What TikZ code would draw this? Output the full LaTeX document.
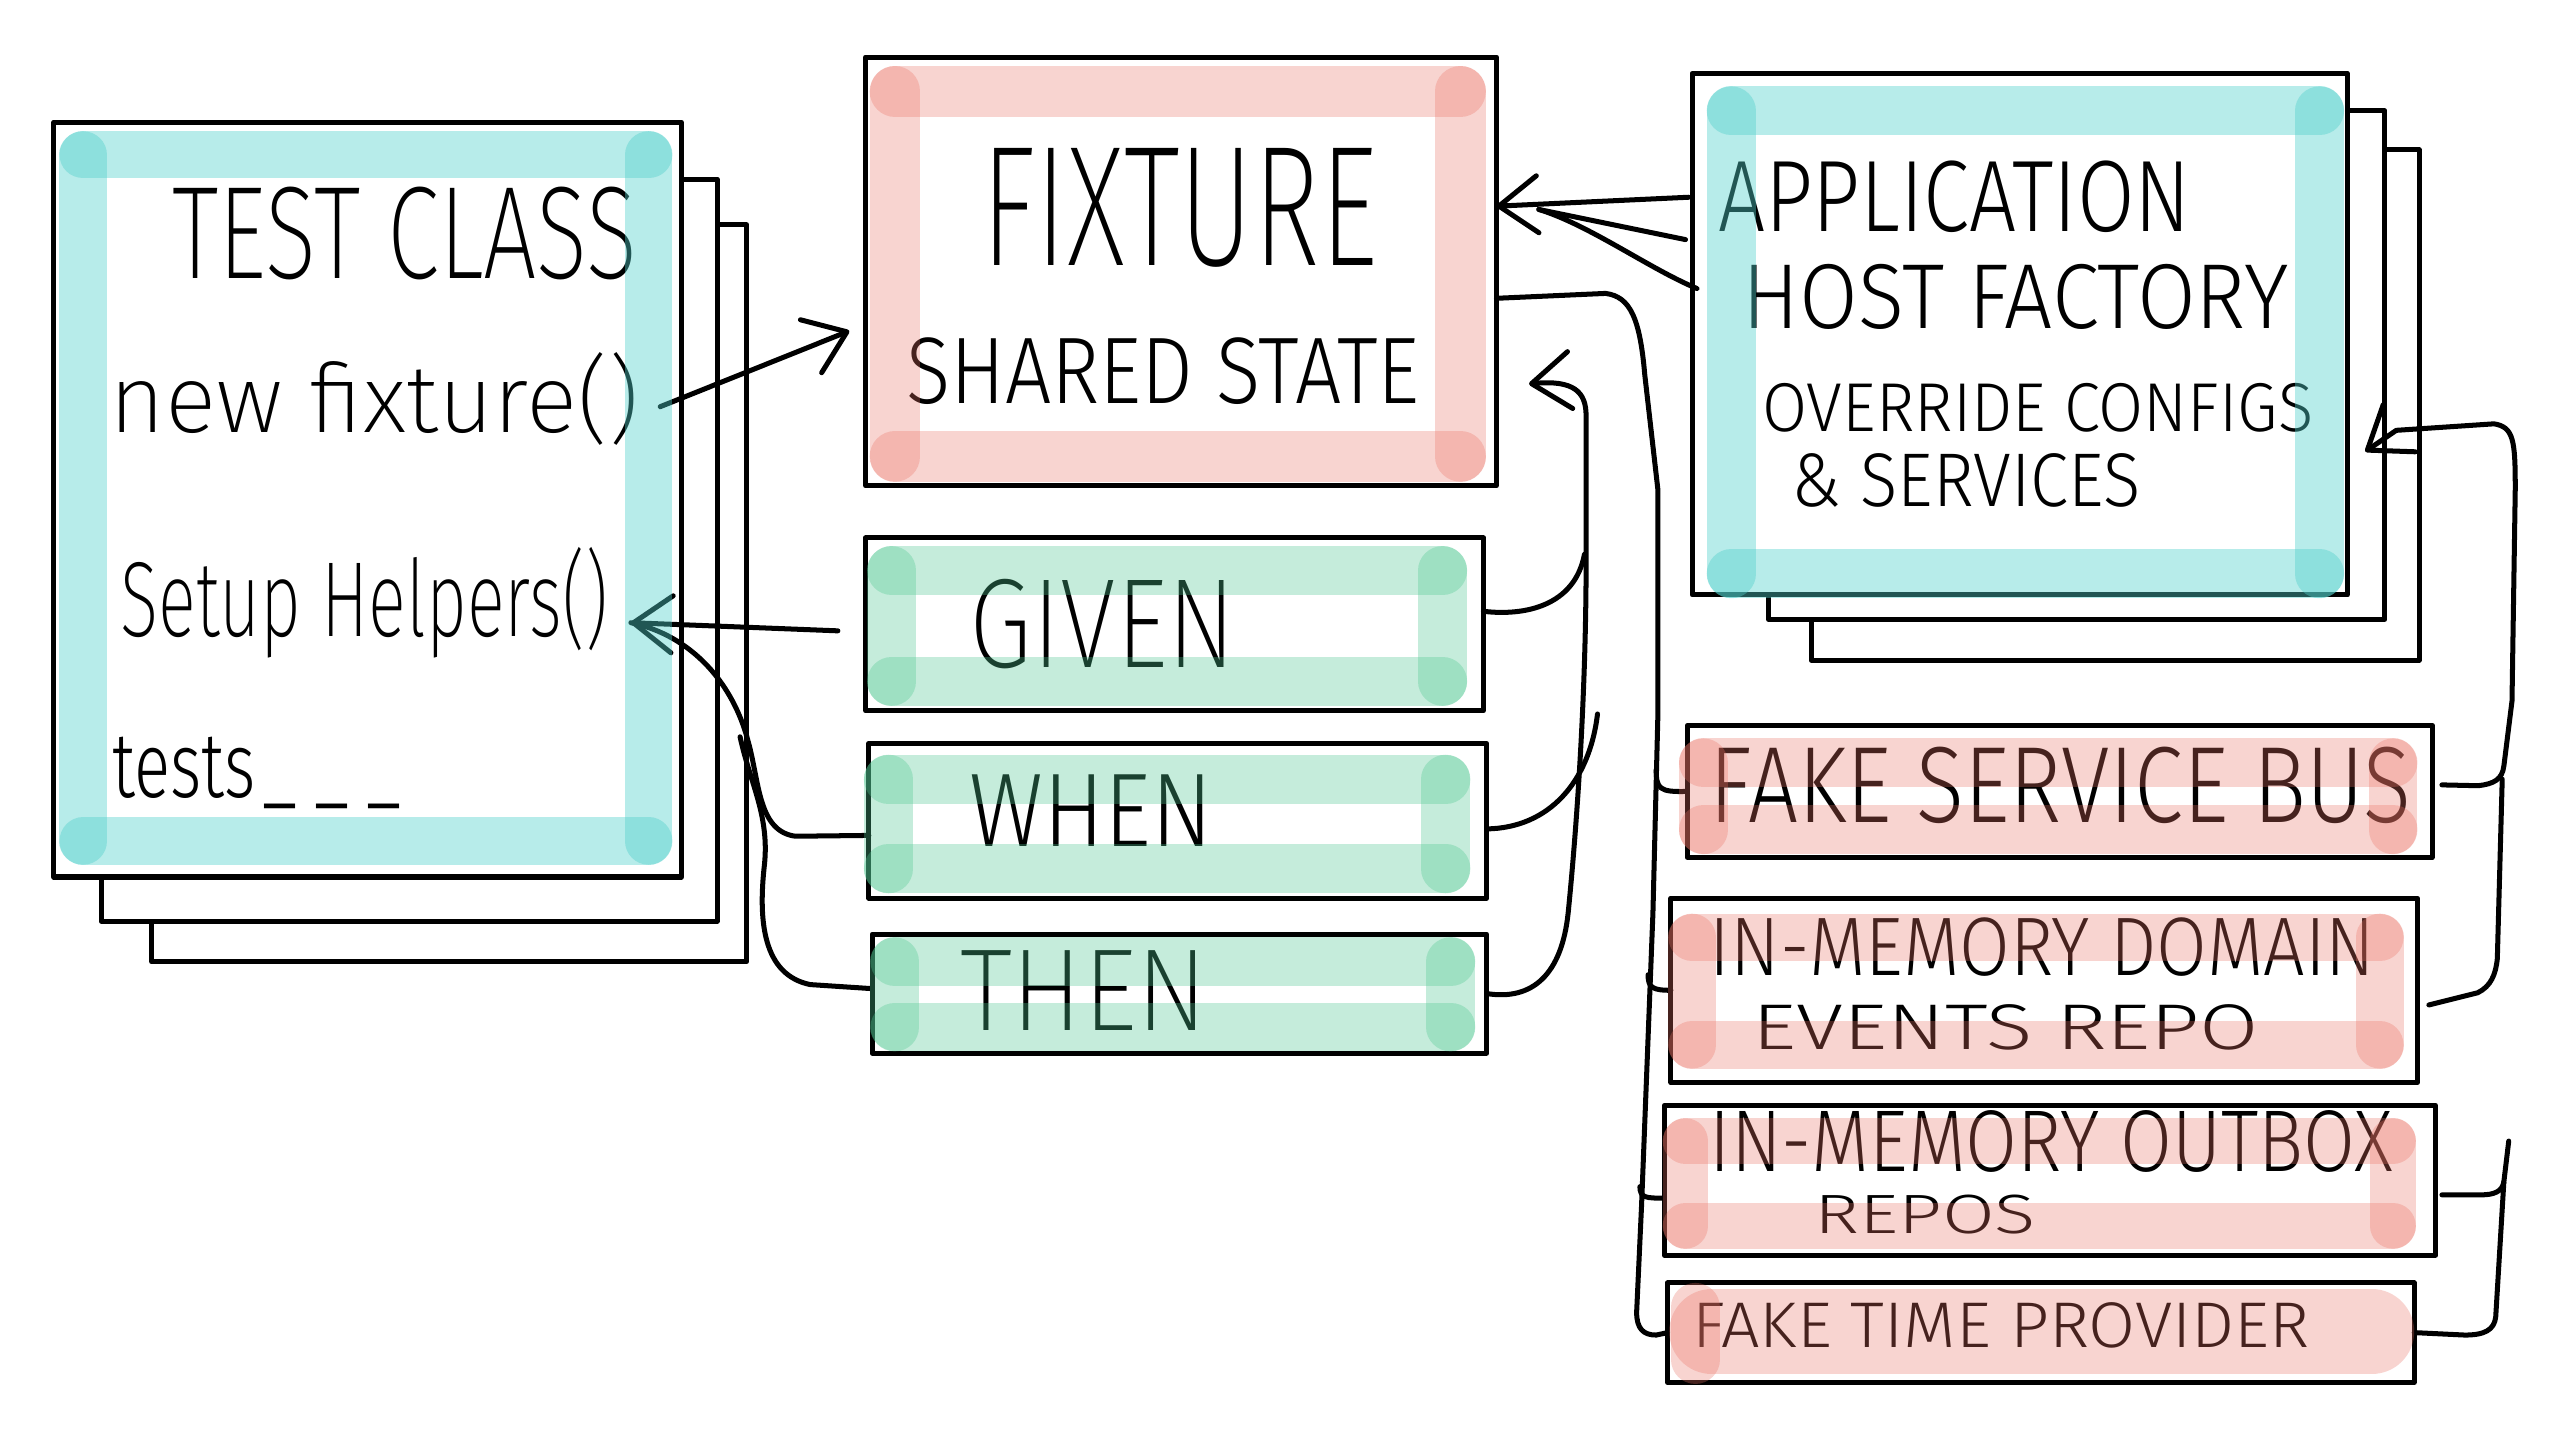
\documentclass[tikz,border=0pt]{standalone}
\usepackage{fontspec}
\usepackage{graphicx}
\newfontfamily\hand{Fira Sans Light}
\newfontfamily\handthin{Fira Sans ExtraLight}
\usetikzlibrary{arrows.meta,calc}
\newlength\ux \setlength\ux{0.16mm}
\newcommand\fitt[3]{\resizebox*{#1\ux}{#2\ux}{\hand #3}}
\newcommand\fitthin[3]{\resizebox*{#1\ux}{#2\ux}{\handthin #3}}
\definecolor{cyanpen}{RGB}{82,209,204}
\definecolor{pinkpen}{RGB}{235,115,102}
\definecolor{greenpen}{RGB}{79,200,146}
\newcommand\bandbox[6]{%
  \draw[#1,line width=#6\ux] (#2,#3) -- (#4,#3);
  \draw[#1,line width=#6\ux] (#2,#5) -- (#4,#5);
  \draw[#1,line width=#6\ux] (#2,#3) -- (#2,#5);
  \draw[#1,line width=#6\ux] (#4,#3) -- (#4,#5);}
\begin{document}
\begin{tikzpicture}[x=0.16mm,y=-0.16mm,
  pen/.style={line width=1.4pt, line cap=round, line join=round},
  box/.style={pen, draw=black, fill=white, inner sep=0pt, outer sep=0pt},
  sheet/.style={pen, draw=black, fill=white},
  txt/.style={inner sep=0pt, outer sep=0pt},
  conn/.style={pen, draw=black},
  arr/.style={conn, -{Straight Barb[length=3.8mm, width=5.6mm, round]}},
  cyanband/.style={draw=cyanpen, draw opacity=0.41, line cap=round},
  pinkband/.style={draw=pinkpen, draw opacity=0.3, line cap=round},
  greenband/.style={draw=greenpen, draw opacity=0.33, line cap=round}]
\fill[white] (0,0) rectangle (1568,878);
\useasboundingbox (0,0) rectangle (1568,878);

% ---------- test class stack
\draw[sheet] (93,138) rectangle (458,590);
\draw[sheet] (62,110) rectangle (440,565);
\node[box, minimum width=385\ux, minimum height=463\ux] (tc) at (225.5,306.5) {};

% ---------- application host factory stack
\draw[sheet] (1111,92) rectangle (1484,405);
\draw[sheet] (1085,68) rectangle (1463,380);
\node[box, minimum width=402\ux, minimum height=320\ux] (app) at (1239,205) {};

% ---------- middle boxes
\node[box, minimum width=387\ux, minimum height=263\ux] (fixture) at (724.5,166.5) {};
\node[box, minimum width=379\ux, minimum height=106\ux] (given) at (720.5,383) {};
\node[box, minimum width=379\ux, minimum height=95\ux] (when) at (722.5,503.5) {};
\node[box, minimum width=377\ux, minimum height=73\ux] (then) at (723.5,609.5) {};

% ---------- right boxes
\node[box, minimum width=457\ux, minimum height=81\ux] (bus) at (1263.5,485.5) {};
\node[box, minimum width=458\ux, minimum height=113\ux] (domain) at (1254,607.5) {};
\node[box, minimum width=473\ux, minimum height=92\ux] (outbox) at (1257.5,724) {};
\node[box, minimum width=458\ux, minimum height=61\ux] (time) at (1252,817.5) {};

% ---------- texts
\node[txt] (tctitle) at (248.5,143.5) {\fitthin{285}{57}{TEST CLASS}};
\node[txt] (nf) at (229.5,244.5) {\fitthin{325}{57}{new fixture()}};
\node[txt] (sh) at (223.5,370) {\fitthin{299}{68}{Setup Helpers()}};
\node[txt] (tests) at (157.5,474) {\fitt{177}{44}{tests\kern1pt\_\kern2.5pt\_\kern2.5pt\_}};
\node[txt] (fxt) at (723.5,127.5) {\fitthin{243}{73}{FIXTURE}};
\node[txt] (sst) at (713.5,227.5) {\fitt{315}{41}{SHARED STATE}};
\node[txt] (gt) at (676.5,383) {\fitthin{163}{55}{GIVEN}};
\node[txt] (wt) at (669.5,497) {\fitt{149}{44}{WHEN}};
\node[txt] (tt) at (665,607.5) {\fitthin{152}{49}{THEN}};
\node[txt] (appt1) at (1199,121) {\fitt{290}{44}{APPLICATION}};
\node[txt] (appt2) at (1236.5,182) {\fitt{335}{40}{HOST FACTORY}};
\node[txt] (appt3) at (1250,250) {\fitt{338}{30}{OVERRIDE CONFIGS}};
\node[txt] (appt4) at (1206,295) {\fitt{214}{33}{\& SERVICES}};
\node[txt] (bust) at (1264,481.5) {\fitt{430}{47}{FAKE SERVICE BUS}};
\node[txt] (domt1) at (1253,581) {\fitt{408}{36}{IN-MEMORY DOMAIN}};
\node[txt] (domt2) at (1230.5,630) {\fitt{311}{28}{EVENTS REPO}};
\node[txt] (outt1) at (1258.5,700) {\fitt{419}{38}{IN-MEMORY OUTBOX}};
\node[txt] (outt2) at (1181,745) {\fitt{136}{24}{REPOS}};
\node[txt] (timet) at (1227.5,813) {\fitt{379}{28}{FAKE TIME PROVIDER}};

% ---------- named connection points
\coordinate (fxIn) at ($(fixture.west)+(-10,36.5)$);
\coordinate (shTip) at ($(sh.east)+(14,12)$);
\coordinate (thenJ) at (454,452);
\coordinate (stTip) at ($(fixture.east)+(20,69)$);
\coordinate (fxR) at ($(fixture.east)+(0,-40)$);
\coordinate (fxR2) at ($(fixture.east)+(26,-38)$);
\coordinate (appTip) at ($(app.east)+(11,72)$);
\coordinate (lowR) at (1539,700);

% ---------- connectors: test class side
\draw[arr] ($(nf.east)+(13,5)$) -- (fxIn);
\draw[arr] ($(given.west)+(-17,4)$) -- (shTip);
\draw[conn] ($(when.west)+(0,9)$) -- (488,513)
  .. controls (465,510) and (466,480) .. (459,455)
  .. controls (450,420) and (425,390) .. (shTip);
\draw[conn] (thenJ) .. controls (460,480) and (472,500) .. (469,530)
  .. controls (465,565) and (468,598) .. (497,604) -- ($(then.west)+(0,-3)$);

% ---------- connectors: given/when/then to shared state
\draw[arr] (then.east) .. controls (940,614) and (958,598) .. (962,560)
  .. controls (968,500) and (973,420) .. (973,345) -- (973,255)
  .. controls (973,240) and (965,233) .. (stTip);
\draw[conn] ($(given.east)+(0,-8)$) .. controls (935,378) and (966,372) .. (972,340);
\draw[conn] ($(when.east)+(0,5)$) .. controls (950,508) and (975,480) .. (980,438);

% ---------- connectors: application host factory to fixture
\draw[arr] ($(app.north west)+(-2,76)$) -- (fxR);
\draw[conn] ($(app.north west)+(-4,102)$) -- (fxR2);
\draw[conn] ($(app.north west)+(3,132)$) .. controls (1012,165) and (975,138) .. (fxR2);

% ---------- fixture to fakes (left rail)
\draw[conn] ($(fixture.east)+(0,16.5)$) -- (985,180)
  .. controls (1000,182) and (1006,195) .. (1009,230) -- (1017,300) -- (1017,440)
  -- (1014,560) -- (1007,740) -- (1004,805)
  .. controls (1004,815) and (1008,819) .. (1016,819) -- (time.west);
\draw[conn] (1016,472) .. controls (1016,484) and (1018,486) .. (bus.west);
\draw[conn] (1011,598) .. controls (1011,606) and (1014,607.5) .. (domain.west);
\draw[conn] (1006,728) .. controls (1006,735) and (1010,735) .. ($(outbox.west)+(0,11)$);

% ---------- fakes to application host factory (right rail)
\draw[arr] ($(bus.east)+(6,-4)$) -- (1520,482)
  .. controls (1530,481) and (1535,478) .. (1536,470) -- (1541,430) -- (1543,300)
  .. controls (1543,270) and (1542,262) .. (1530,260) -- (1470,264) -- (appTip);
\draw[conn] ($(domain.east)+(7,9)$) -- (1520,609)
  .. controls (1528,605) and (1531,598) .. (1532,588) -- (1535,478);
\draw[conn] (lowR) -- (1536,725) -- (1531,808)
  .. controls (1530,816) and (1524,819) .. (1512,819) -- (time.east);
\draw[conn] ($(outbox.east)+(4,9)$) -- (1522,733)
  .. controls (1530,733) and (1535,731) .. (1536,725);

% ---------- highlighter bands
\bandbox{cyanband}{51}{95}{398}{516}{29}
\bandbox{cyanband}{1062}{68}{1423}{352}{30}
\bandbox{pinkband}{549}{56}{896}{280}{31}
\bandbox{greenband}{547}{350}{885}{418}{30}
\bandbox{greenband}{545}{478}{887}{533}{30}
\bandbox{greenband}{549}{590}{890}{630}{30}
\bandbox{pinkband}{1045}{468}{1468}{509}{30}
\bandbox{pinkband}{1038}{575}{1460}{641}{29}
\bandbox{pinkband}{1034}{700}{1468}{752}{28}
\draw[pinkband, line width=52\ux] (1050,817) -- (1455,817);
\draw[pinkband, line width=30\ux] (1040,802) -- (1040,834);
\end{tikzpicture}
\end{document}
